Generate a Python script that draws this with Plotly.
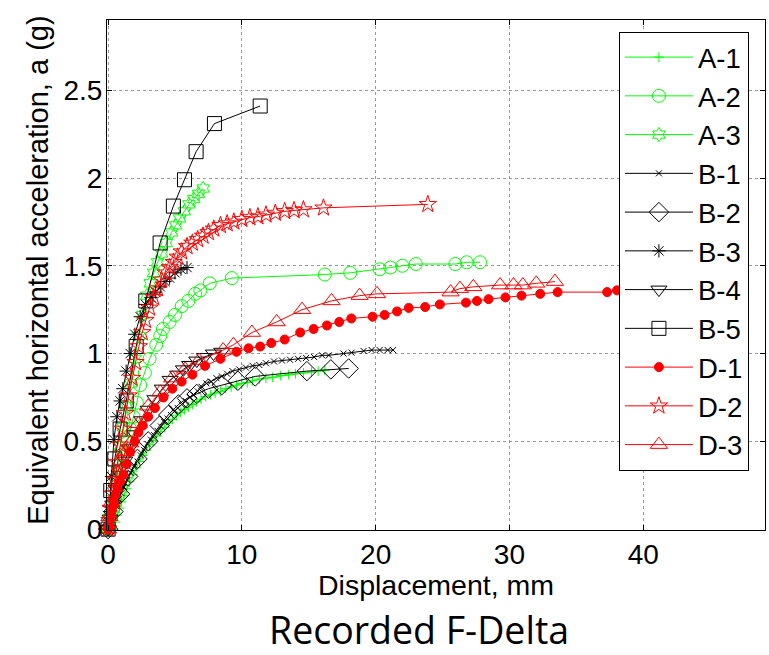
import plotly.graph_objects as go

# ---------------- data ----------------
A1_x = [0.4, 0.55, 0.7, 0.85, 1.0, 1.2, 1.4, 1.6, 1.85, 2.1, 2.35, 2.6, 2.85, 3.1, 3.35,
        3.6, 3.9, 4.2, 4.5, 4.8, 5.1, 5.4, 5.7, 6.0, 6.3, 6.6, 6.95, 7.3, 7.65, 8.0,
        8.4, 8.8, 9.2, 9.6, 10.0, 10.4, 10.8, 11.3, 11.8, 12.3, 12.9, 13.5, 14.0, 14.6,
        15.2, 15.7, 16.2]
A1_y = [0, 0.04, 0.08, 0.12, 0.155, 0.19, 0.23, 0.27, 0.31, 0.35, 0.385, 0.42, 0.45, 0.48,
        0.505, 0.53, 0.555, 0.58, 0.605, 0.625, 0.645, 0.665, 0.68, 0.695, 0.71, 0.725,
        0.74, 0.755, 0.765, 0.775, 0.785, 0.80, 0.81, 0.82, 0.83, 0.835, 0.845, 0.855,
        0.86, 0.865, 0.875, 0.88, 0.885, 0.89, 0.895, 0.90, 0.905]

A2_x = [0, 0.2, 0.45, 0.7, 0.95, 1.2, 1.4, 1.65, 1.9, 2.15, 2.4, 2.75, 3.1, 3.6, 3.9, 4.1,
        4.6, 5.0, 5.5, 6.0, 6.5, 6.9, 7.6, 9.25, 16.2, 18.1, 20.3, 21.1, 22.0, 23.0, 25.95,
        26.8, 27.8]
A2_y = [0, 0.08, 0.17, 0.26, 0.34, 0.42, 0.49, 0.57, 0.64, 0.72, 0.82, 0.89, 0.97, 1.05,
        1.10, 1.14, 1.18, 1.22, 1.27, 1.30, 1.34, 1.36, 1.40, 1.43, 1.45, 1.46, 1.48, 1.49,
        1.50, 1.51, 1.51, 1.52, 1.52]

A3_x = [0, 0.15, 0.3, 0.5, 0.7, 0.9, 1.15, 1.4, 1.7, 2.0, 2.3, 2.6, 2.9, 3.15, 3.4, 3.7,
        4.0, 4.35, 4.75, 5.05, 5.35, 5.7, 6.05, 6.4, 6.75, 7.1]
A3_y = [0, 0.08, 0.17, 0.27, 0.37, 0.47, 0.58, 0.70, 0.83, 0.97, 1.10, 1.22, 1.33, 1.40,
        1.46, 1.52, 1.57, 1.63, 1.69, 1.73, 1.77, 1.81, 1.85, 1.88, 1.91, 1.94]

B1_x = [0, 0.2, 0.4, 0.6, 0.8, 1.0, 1.2, 1.45, 1.7, 1.95, 2.2, 2.45, 2.7, 2.95, 3.2, 3.45,
        3.7, 3.95, 4.2, 4.45, 4.7, 4.95, 5.2, 5.5, 5.8, 6.1, 6.4, 6.7, 7.0, 7.35, 7.7, 8.1,
        8.5, 8.9, 9.3, 9.8, 10.3, 10.8, 11.3, 11.8, 12.4, 13.0, 13.6, 14.2, 14.8, 15.4,
        16.0, 16.5, 17.6, 18.2, 19.1, 19.7, 20.3, 20.9, 21.3]
B1_y = [0, 0.045, 0.09, 0.13, 0.17, 0.205, 0.24, 0.28, 0.32, 0.355, 0.385, 0.42, 0.45,
        0.485, 0.51, 0.535, 0.56, 0.585, 0.61, 0.63, 0.65, 0.67, 0.69, 0.71, 0.73, 0.75,
        0.765, 0.785, 0.81, 0.83, 0.84, 0.86, 0.87, 0.885, 0.90, 0.91, 0.92, 0.93, 0.935,
        0.945, 0.955, 0.96, 0.965, 0.97, 0.975, 0.98, 0.99, 0.99, 1.0, 1.005, 1.015, 1.02,
        1.02, 1.02, 1.02]

B2_x = [0, 0.4, 0.9, 1.5, 2.2, 3.0, 3.86, 4.5, 5.26, 5.9, 6.63, 7.5, 8.5, 9.7, 11.0,
        14.86, 16.65, 17.98]
B2_y = [0, 0.10, 0.20, 0.30, 0.40, 0.50, 0.59, 0.65, 0.71, 0.745, 0.77, 0.80, 0.82, 0.845,
        0.87, 0.90, 0.91, 0.915]

B3_x = [0, 0.1, 0.25, 0.44, 0.66, 0.9, 1.1, 1.35, 1.65, 2.0, 2.4, 2.8, 3.2, 3.56, 3.9,
        4.26, 4.6, 5.0, 5.45, 5.9]
B3_y = [0, 0.10, 0.30, 0.51, 0.64, 0.73, 0.80, 0.90, 1.00, 1.11, 1.21, 1.28, 1.32, 1.35,
        1.38, 1.41, 1.43, 1.46, 1.48, 1.49]

B4_x = [0, 0.15, 0.35, 0.6, 0.9, 1.25, 1.6, 2.0, 2.52, 3.0, 3.5, 4.05, 4.64, 5.2, 5.63,
        6.1, 6.63, 7.2, 7.88, 8.5]
B4_y = [0, 0.06, 0.14, 0.23, 0.31, 0.39, 0.46, 0.54, 0.62, 0.68, 0.74, 0.80, 0.85, 0.88,
        0.91, 0.935, 0.96, 0.98, 1.00, 1.01]

B5_x = [0, 0.2, 0.5, 0.9, 1.36, 2.1, 2.82, 3.89, 4.88, 5.71, 6.58, 7.95, 11.37]
B5_y = [0, 0.22, 0.40, 0.57, 0.73, 1.04, 1.30, 1.63, 1.84, 1.99, 2.15, 2.31, 2.41]

D1_x = [0, 0.05, 0.12, 0.2, 0.3, 0.42, 0.55, 0.7, 0.9, 1.15, 1.4, 1.65, 2.0, 2.27, 2.6,
        3.0, 3.5, 4.14, 4.8, 5.5, 6.3, 7.25, 8.4, 9.6, 10.5, 11.37, 12.2, 13.2, 14.36,
        15.36, 16.36, 17.28, 18.18, 19.77, 20.67, 21.6, 22.47, 23.7, 24.8, 26.75, 27.57,
        28.44, 29.7, 30.9, 32.3, 33.6, 37.3, 38.04]
D1_y = [0, 0.02, 0.05, 0.08, 0.11, 0.15, 0.19, 0.23, 0.27, 0.31, 0.37, 0.44, 0.50, 0.55,
        0.59, 0.64, 0.69, 0.75, 0.80, 0.84, 0.88, 0.93, 0.97, 1.01, 1.03, 1.04, 1.06, 1.08,
        1.12, 1.14, 1.16, 1.18, 1.20, 1.21, 1.22, 1.24, 1.26, 1.265, 1.28, 1.29, 1.30, 1.31,
        1.32, 1.33, 1.34, 1.35, 1.35, 1.36]

D2_x = [0, 0.1, 0.2, 0.35, 0.5, 0.7, 0.9, 1.1, 1.3, 1.55, 1.8, 2.05, 2.3, 2.55, 2.8, 3.1,
        3.4, 3.7, 4.0, 4.3, 4.6, 4.9, 5.2, 5.5, 5.9, 6.3, 6.7, 7.1, 7.5, 7.9, 8.4, 8.9, 9.4,
        10.0, 10.6, 11.2, 11.8, 12.5, 13.2, 13.9, 14.6, 16.1, 23.9]
D2_y = [0, 0.05, 0.12, 0.20, 0.28, 0.38, 0.48, 0.57, 0.66, 0.76, 0.86, 0.95, 1.04, 1.12,
        1.19, 1.26, 1.32, 1.37, 1.42, 1.46, 1.49, 1.52, 1.55, 1.58, 1.61, 1.63, 1.65, 1.67,
        1.69, 1.71, 1.73, 1.74, 1.75, 1.765, 1.775, 1.78, 1.79, 1.80, 1.81, 1.815, 1.82,
        1.83, 1.85]

D3_x = [0, 0.1, 0.25, 0.45, 0.7, 1.0, 1.3, 1.65, 2.27, 3.0, 3.9, 4.8, 5.76, 6.8, 8.6,
        9.37, 10.75, 12.6, 14.5, 16.7, 18.8, 20.1, 25.6, 26.3, 27.3, 29.3, 30.3, 31.0,
        32.0, 33.4]
D3_y = [0, 0.07, 0.15, 0.24, 0.32, 0.39, 0.44, 0.49, 0.60, 0.70, 0.78, 0.86, 0.91, 0.96,
        1.02, 1.05, 1.12, 1.18, 1.25, 1.30, 1.33, 1.34, 1.35, 1.37, 1.38, 1.39, 1.39, 1.39,
        1.40, 1.41]

x_ticks = [0, 10, 20, 30, 40]
y_ticks = [0, 0.5, 1, 1.5, 2, 2.5]
y_tick_labels = ["0", "0.5", "1", "1.5", "2", "2.5"]

GREEN = "#00ff00"
BLACK = "#000000"
RED = "#ff0000"

series = [
    ("A-1", A1_x, A1_y, GREEN, "cross-thin-open", 7),
    ("A-2", A2_x, A2_y, GREEN, "circle-open", 13),
    ("A-3", A3_x, A3_y, GREEN, "hexagram-open", 11),
    ("B-1", B1_x, B1_y, BLACK, "x-thin-open", 6),
    ("B-2", B2_x, B2_y, BLACK, "diamond-open", 15),
    ("B-3", B3_x, B3_y, BLACK, "asterisk-open", 11),
    ("B-4", B4_x, B4_y, BLACK, "triangle-down-open", 14),
    ("B-5", B5_x, B5_y, BLACK, "square-open", 14),
    ("D-1", D1_x, D1_y, RED, "circle", 9),
    ("D-2", D2_x, D2_y, RED, "star-open", 13),
    ("D-3", D3_x, D3_y, RED, "triangle-up-open", 15),
]

fig = go.Figure()
for name, xs, ys, col, sym, sz in series:
    fig.add_trace(go.Scatter(
        x=xs, y=ys, name=name, mode="lines+markers",
        line=dict(color=col, width=1),
        marker=dict(symbol=sym, size=sz, color=col, line=dict(color=col, width=1)),
        cliponaxis=False,
    ))

FONT = "Liberation Sans, Arial, sans-serif"

fig.update_layout(
    width=769, height=655,
    margin=dict(l=107, r=4, t=20, b=125),
    paper_bgcolor="white", plot_bgcolor="white",
    font=dict(family=FONT, size=28, color="black"),
    showlegend=True,
    legend=dict(
        x=0.778, y=0.977, xanchor="left", yanchor="top",
        bgcolor="white", bordercolor="black", borderwidth=1,
        font=dict(family=FONT, size=27.5, color="black"),
        itemwidth=68, tracegroupgap=0,
    ),
    annotations=[
        dict(text="Recorded F-Delta", xref="paper", yref="paper",
             x=0.474, y=-0.195, xanchor="center", yanchor="middle",
             showarrow=False,
             font=dict(family="Open Sans, sans-serif", size=37.5, color="black")),
        dict(text="Displacement, mm", xref="paper", yref="paper",
             x=0.5, y=-0.108, xanchor="center", yanchor="middle",
             showarrow=False, font=dict(family=FONT, size=28.5, color="black")),
        dict(text="Equivalent horizontal acceleration, a (g)", xref="paper", yref="paper",
             x=-0.105, y=0.51, xanchor="center", yanchor="middle", textangle=-90,
             showarrow=False, font=dict(family=FONT, size=29, color="black")),
    ],
)

fig.update_xaxes(
    range=[-0.08, 49.1], tickvals=x_ticks, ticktext=[str(v) for v in x_ticks],
    ticks="inside", ticklen=5, tickcolor="black", tickwidth=1,
    showline=True, linecolor="black", linewidth=1, mirror="ticks",
    showgrid=True, gridcolor="#999999", gridwidth=1, griddash="dot",
    zeroline=False, ticklabelstandoff=-1, automargin=False,
    tickfont=dict(family=FONT, size=28),
)
fig.update_yaxes(
    range=[-0.005, 2.9], tickvals=y_ticks, ticktext=y_tick_labels,
    ticks="inside", ticklen=5, tickcolor="black", tickwidth=1,
    showline=True, linecolor="black", linewidth=1, mirror="ticks",
    showgrid=True, gridcolor="#999999", gridwidth=1, griddash="dot",
    zeroline=False, ticklabelstandoff=-2, automargin=False,
    tickfont=dict(family=FONT, size=28),
)

# remove the browser's default 8px body margin so the figure sits at the page corner
fig.write_html("out.html", config={"displayModeBar": False},
               post_script="document.body.style.margin='0px';")
